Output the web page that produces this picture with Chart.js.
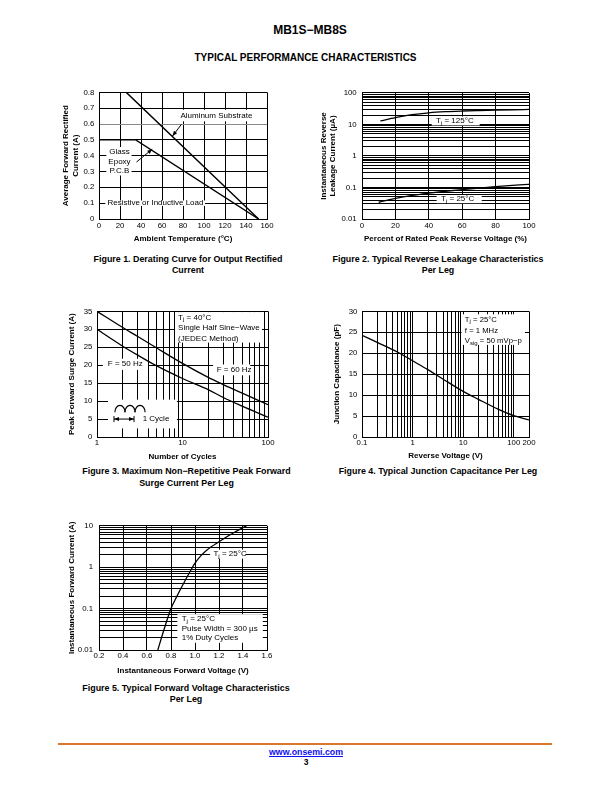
<!DOCTYPE html>
<html><head><meta charset="utf-8">
<script src="https://cdn.jsdelivr.net/npm/chart.js@4.4.1/dist/chart.umd.min.js"></script>
<style>
html,body{margin:0;padding:0;background:#fff;}
body{width:612px;height:792px;position:relative;overflow:hidden;font-family:"Liberation Sans",Arial,Helvetica,sans-serif;color:#000;}
.c{position:absolute;transform:translateX(-50%);text-align:center;font-weight:bold;white-space:nowrap;}
canvas{position:absolute;}
#rule{position:absolute;left:58px;top:743px;width:494px;height:2px;background:#d9782d;}
a{color:#1010ee;text-decoration:underline;}
</style></head>
<body>
<div class="c" style="left:310px;top:23px;font-size:12px;line-height:14px;">MB1S−MB8S</div>
<div class="c" style="left:305.5px;top:52px;font-size:10px;line-height:12px;">TYPICAL PERFORMANCE CHARACTERISTICS</div>
<div class="c" style="left:188px;top:253.5px;font-size:8.9px;line-height:11px;">Figure 1. Derating Curve for Output Rectified<br>Current</div>
<div class="c" style="left:438px;top:253.5px;font-size:8.9px;line-height:11px;">Figure 2. Typical Reverse Leakage Characteristics<br>Per Leg</div>
<div class="c" style="left:186.5px;top:466px;font-size:8.9px;line-height:11.5px;">Figure 3. Maximum Non−Repetitive Peak Forward<br>Surge Current Per Leg</div>
<div class="c" style="left:438px;top:466px;font-size:8.9px;line-height:11px;">Figure 4. Typical Junction Capacitance Per Leg</div>
<div class="c" style="left:186px;top:682.5px;font-size:8.9px;line-height:11px;">Figure 5. Typical Forward Voltage Characteristics<br>Per Leg</div>
<div id="rule"></div>
<div class="c" style="left:306px;top:746.5px;font-size:8.8px;line-height:11px;"><a>www.onsemi.com</a></div>
<div class="c" style="left:306px;top:756.5px;font-size:8.5px;line-height:11px;">3</div>

<canvas id="c1"></canvas><canvas id="c2"></canvas><canvas id="c3"></canvas><canvas id="c4"></canvas><canvas id="c5"></canvas>
<script>
// ---------------- DATA ----------------
// Figure 1 – derating curve
const fig1XTicks = [0, 20, 40, 60, 80, 100, 120, 140, 160];
const fig1YTicks = [0, 0.1, 0.2, 0.3, 0.4, 0.5, 0.6, 0.7, 0.8];
const fig1AlumTemp = [0, 26, 152];
const fig1AlumCurrent = [0.8, 0.8, 0];
const fig1GlassTemp = [0, 35, 152];
const fig1GlassCurrent = [0.5, 0.5, 0];

// Figure 2 – reverse leakage
const fig2XTicks = [0, 20, 40, 60, 80, 100];
const fig2YLabels = [0.01, 0.1, 1, 10, 100];
const fig2Volt125 = [11, 20, 30, 40, 50, 60, 70, 80, 90, 100];
const fig2Leak125 = [13, 16.5, 20.5, 23.5, 25.5, 26.8, 27.8, 28.7, 29.4, 30];
const fig2Volt25 = [10, 20, 30, 40, 50, 60, 70, 80, 90, 100];
const fig2Leak25 = [0.034, 0.045, 0.056, 0.066, 0.076, 0.086, 0.096, 0.106, 0.116, 0.126];

// Figure 3 – surge current
const fig3XLabels = [1, 10, 100];
const fig3YTicks = [0, 5, 10, 15, 20, 25, 30, 35];
const fig3Cycles = [1, 2, 3, 5, 10, 20, 30, 50, 100];
const fig3Surge60 = [35, 30.5, 28, 24.8, 20.5, 16.6, 14.6, 12.2, 9];
const fig3Surge50 = [30, 25.3, 22.8, 19.8, 16.3, 13.2, 11.0, 8.6, 5.5];

// Figure 4 – junction capacitance
const fig4XLabels = [0.1, 1, 10, 100, 200];
const fig4YTicks = [0, 5, 10, 15, 20, 25, 30];
const fig4Voltage = [0.1, 0.2, 0.5, 1, 2, 5, 10, 20, 50, 100, 200];
const fig4Cap = [24.3, 22.6, 20.3, 18.2, 16.1, 13.1, 10.9, 9.0, 6.6, 5.1, 4.1];

// Figure 5 – forward voltage
const fig5XTicks = [0.2, 0.4, 0.6, 0.8, 1.0, 1.2, 1.4, 1.6];
const fig5XLabels = ['0.2', '0.4', '0.6', '0.8', '1.0', '1.2', '1.4', '1.6'];
const fig5YLabels = [0.01, 0.1, 1, 10];
const fig5Voltage = [0.69, 0.74, 0.8, 0.85, 0.9, 0.95, 1.0, 1.05, 1.1, 1.2, 1.3, 1.4, 1.43];
const fig5Current = [0.01, 0.03, 0.1, 0.2, 0.38, 0.7, 1.25, 1.9, 2.6, 4.1, 6.2, 9.0, 10];

// ---------------- HELPERS ----------------
const FAM = '"Liberation Sans", Arial, Helvetica, sans-serif';
Chart.defaults.font.family = FAM;
Chart.defaults.font.size = 7.8;
Chart.defaults.color = '#000';

function logGrid(min, max) {
  const out = [];
  for (let e = Math.floor(Math.log10(min)); e <= Math.ceil(Math.log10(max)); e++) {
    for (let m = 1; m <= 9; m++) {
      const v = +(m * Math.pow(10, e)).toPrecision(6);
      if (v >= min - 1e-12 && v <= max + 1e-12) out.push(v);
    }
  }
  return out;
}
function pts(xs, ys) { return xs.map((x, i) => ({x: x, y: ys[i]})); }
function same(a, b) { return Math.abs(a - b) <= 1e-9 * Math.max(1, Math.abs(a)); }

function axis(kind, o) {
  return {
    type: o.type || 'linear', min: o.min, max: o.max,
    border: {display: true, color: '#000', width: 1},
    grid: {color: o.gridColor || '#000', lineWidth: 1, drawTicks: false},
    ticks: {
      padding: o.tickPad, autoSkip: false, maxRotation: 0, minRotation: 0,
      font: {size: 7.8},
      callback: function (v) {
        for (let i = 0; i < o.labels.length; i++) {
          if (same(o.labels[i], v)) return o.labelText ? o.labelText[i] : String(o.labels[i]);
        }
        return '';
      }
    },
    afterBuildTicks: function (s) { s.ticks = o.grid.map(v => ({value: v})); },
    afterFit: function (s) { if (kind === 'x') s.height = o.fit; else s.width = o.fit; },
    title: {display: true, text: o.title, color: '#000',
      font: {size: 8, weight: 'bold', lineHeight: 1.2}, padding: o.titlePad}
  };
}

function parseRich(s) {
  const out = []; const re = /_\{([^}]*)\}/g; let last = 0, m;
  while ((m = re.exec(s))) {
    if (m.index > last) out.push({t: s.slice(last, m.index)});
    out.push({t: m[1], sub: true}); last = re.lastIndex;
  }
  if (last < s.length) out.push({t: s.slice(last)});
  return out;
}
function drawRich(ctx, s, x, y, align, size) {
  const segs = parseRich(s); let w = 0;
  for (const g of segs) { ctx.font = (g.sub ? size * 0.78 : size) + 'px ' + FAM; g.w = ctx.measureText(g.t).width; w += g.w; }
  let cx = align === 'center' ? x - w / 2 : x;
  ctx.textBaseline = 'middle'; ctx.textAlign = 'left'; ctx.fillStyle = '#000';
  for (const g of segs) {
    ctx.font = (g.sub ? size * 0.78 : size) + 'px ' + FAM;
    ctx.fillText(g.t, cx, y + (g.sub ? 2 : 0)); cx += g.w;
  }
}
function arrowHead(ctx, x1, y1, x2, y2, len, hw) {
  const a = Math.atan2(y2 - y1, x2 - x1);
  ctx.beginPath();
  ctx.moveTo(x2, y2);
  ctx.lineTo(x2 - len * Math.cos(a) + hw * Math.sin(a), y2 - len * Math.sin(a) - hw * Math.cos(a));
  ctx.lineTo(x2 - len * Math.cos(a) - hw * Math.sin(a), y2 - len * Math.sin(a) + hw * Math.cos(a));
  ctx.closePath(); ctx.fill();
}

function notes(items) {
  return {
    id: 'notes',
    beforeDatasetsDraw(chart) {
      const ctx = chart.ctx, X = chart.scales.x, Y = chart.scales.y;
      const px = v => X.getPixelForValue(v), py = v => Y.getPixelForValue(v);
      ctx.save();
      for (const it of items) if (it.type === 'box') {
        const x1 = px(it.x1), x2 = px(it.x2), y1 = py(it.y1), y2 = py(it.y2);
        ctx.fillStyle = '#fff';
        ctx.fillRect(Math.min(x1, x2), Math.min(y1, y2), Math.abs(x2 - x1), Math.abs(y2 - y1));
      }
      for (const it of items) if (it.type === 'text') {
        drawRich(ctx, it.text, px(it.x), py(it.y), it.align || 'left', it.size || 8);
      }
      ctx.restore();
    },
    afterDatasetsDraw(chart) {
      const ctx = chart.ctx, X = chart.scales.x, Y = chart.scales.y;
      const px = v => X.getPixelForValue(v), py = v => Y.getPixelForValue(v);
      ctx.save();
      ctx.strokeStyle = '#000'; ctx.fillStyle = '#000'; ctx.lineWidth = 1;
      for (const it of items) {
        if (it.type === 'arrow') {
          const x1 = px(it.x1), y1 = py(it.y1), x2 = px(it.x2), y2 = py(it.y2);
          ctx.beginPath(); ctx.moveTo(x1, y1); ctx.lineTo(x2, y2); ctx.stroke();
          arrowHead(ctx, x1, y1, x2, y2, 5, 2);
        } else if (it.type === 'cycle') {
          const a = px(it.x1), b = px(it.x2), yb = py(it.yBase), yt = py(it.yTop);
          const w = (b - a) / 3;
          ctx.lineWidth = 1.2;
          for (let k = 0; k < 3; k++) {
            ctx.beginPath();
            ctx.ellipse(a + w * k + w / 2, yb, w / 2, yb - yt, 0, Math.PI, 2 * Math.PI);
            ctx.stroke();
          }
          ctx.lineWidth = 1;
          const d1 = px(it.d1), d2 = px(it.d2), dy = py(it.dy);
          ctx.beginPath(); ctx.moveTo(d1, dy); ctx.lineTo(d2, dy);
          ctx.moveTo(d1, dy - 3); ctx.lineTo(d1, dy + 3);
          ctx.moveTo(d2, dy - 3); ctx.lineTo(d2, dy + 3); ctx.stroke();
          arrowHead(ctx, d2, dy, d1, dy, 5, 2);
          arrowHead(ctx, d1, dy, d2, dy, 5, 2);
        }
      }
      ctx.restore();
    }
  };
}

const YW = 45, PT = 8, PR = 14, XH = 32;
function makeChart(id, box, datasets, xAxis, yAxis, items) {
  const cv = document.getElementById(id);
  const w = box.R - box.L + YW + PR, h = box.B - box.T + PT + XH;
  cv.width = w; cv.height = h;
  cv.style.left = (box.L - YW) + 'px'; cv.style.top = (box.T - PT) + 'px';
  cv.style.width = w + 'px'; cv.style.height = h + 'px';
  new Chart(cv, {
    type: 'scatter',
    data: {datasets: datasets.map(d => Object.assign({
      showLine: true, borderColor: '#000', borderWidth: 1.3, pointRadius: 0,
      pointHoverRadius: 0, fill: false}, d))},
    options: {
      responsive: false, animation: false, devicePixelRatio: 1,
      layout: {padding: {left: 0, top: PT, right: PR, bottom: 0}},
      plugins: {legend: {display: false}, tooltip: {enabled: false}},
      events: [],
      scales: {x: xAxis, y: yAxis}
    },
    plugins: [notes(items)]
  });
}

// ---------------- FIGURE 1 ----------------
makeChart('c1', {L: 99, T: 91, R: 267, B: 219},
  [{data: pts(fig1AlumTemp, fig1AlumCurrent), borderWidth: 1.4},
   {data: pts(fig1GlassTemp, fig1GlassCurrent), borderWidth: 1.4}],
  axis('x', {min: 0, max: 160, grid: fig1XTicks, labels: fig1XTicks, tickPad: 2.0, fit: XH,
    title: 'Ambient Temperature (°C)', titlePad: {top: 0, bottom: 7.2}}),
  Object.assign(axis('y', {min: 0, max: 0.8, grid: fig1YTicks, labels: fig1YTicks, tickPad: 4.7, fit: YW,
    title: ['Average Forward Rectified', 'Current (A)'], titlePad: {top: 7.0, bottom: 0}}),
    {grid: {drawTicks: false, lineWidth: 1,
      color: c => (c.tick && same(c.tick.value, 0.6)) ? '#8a8a8a' : '#000'}}),
  [
    {type: 'box', x1: 75, x2: 148, y1: 0.617, y2: 0.69},
    {type: 'text', x: 77.5, y: 0.655, text: 'Aluminum Substrate'},
    {type: 'box', x1: 7, x2: 31, y1: 0.275, y2: 0.455},
    {type: 'text', x: 19.5, y: 0.422, text: 'Glass', align: 'center'},
    {type: 'text', x: 19.5, y: 0.362, text: 'Epoxy', align: 'center'},
    {type: 'text', x: 19.5, y: 0.303, text: 'P.C.B', align: 'center'},
    {type: 'box', x1: 6, x2: 101, y1: 0.083, y2: 0.117},
    {type: 'text', x: 8, y: 0.1, text: 'Resistive or Inductive Load'},
    {type: 'arrow', x1: 78.5, y1: 0.598, x2: 70, y2: 0.524},
    {type: 'arrow', x1: 35.7, y1: 0.36, x2: 50.7, y2: 0.441}
  ]);

// ---------------- FIGURE 2 ----------------
makeChart('c2', {L: 362, T: 91, R: 529, B: 219},
  [{data: pts(fig2Volt125, fig2Leak125), cubicInterpolationMode: 'monotone'},
   {data: pts(fig2Volt25, fig2Leak25), cubicInterpolationMode: 'monotone'}],
  axis('x', {min: 0, max: 100, grid: fig2XTicks, labels: fig2XTicks, tickPad: 2.0, fit: XH,
    title: 'Percent of Rated Peak Reverse Voltage (%)', titlePad: {top: 0, bottom: 7.2}}),
  axis('y', {type: 'logarithmic', min: 0.01, max: 100, grid: logGrid(0.01, 100), labels: fig2YLabels,
    tickPad: 5.3, fit: YW, title: ['Instantaneous Reverse', 'Leakage Current (µA)'],
    titlePad: {top: 1.5, bottom: 0}}),
  [
    {type: 'box', x1: 41.7, x2: 70.5, y1: 9.35, y2: 17.8},
    {type: 'text', x: 44.3, y: 13.1, text: 'T_{j} = 125°C'},
    {type: 'box', x1: 44.7, x2: 71.7, y1: 0.0318, y2: 0.0577},
    {type: 'text', x: 47.3, y: 0.0428, text: 'T_{j} = 25°C'}
  ]);

// ---------------- FIGURE 3 ----------------
makeChart('c3', {L: 97, T: 310, R: 268, B: 437},
  [{data: pts(fig3Cycles, fig3Surge60), cubicInterpolationMode: 'monotone'},
   {data: pts(fig3Cycles, fig3Surge50), cubicInterpolationMode: 'monotone'}],
  axis('x', {type: 'logarithmic', min: 1, max: 100, grid: logGrid(1, 100), labels: fig3XLabels,
    tickPad: 0.8, fit: XH, title: 'Number of Cycles', titlePad: {top: 0, bottom: 7.7}}),
  axis('y', {min: 0, max: 35, grid: fig3YTicks, labels: fig3YTicks, tickPad: 4.7, fit: YW,
    title: 'Peak Forward Surge Current (A)', titlePad: {top: 14.9, bottom: 0}}),
  [
    {type: 'box', x1: 8.18, x2: 85, y1: 26.3, y2: 34.8},
    {type: 'text', x: 8.87, y: 33.3, text: 'T_{j} = 40°C'},
    {type: 'text', x: 8.87, y: 30.4, text: 'Single Half Sine−Wave'},
    {type: 'text', x: 8.87, y: 27.5, text: '(JEDEC Method)'},
    {type: 'box', x1: 1.17, x2: 3.95, y1: 18.7, y2: 21.8},
    {type: 'text', x: 1.34, y: 20.3, text: 'F = 50 Hz'},
    {type: 'box', x1: 22.8, x2: 62, y1: 17.2, y2: 20.2},
    {type: 'text', x: 25.1, y: 18.7, text: 'F = 60 Hz'},
    {type: 'box', x1: 1.345, x2: 8.6, y1: 2.4, y2: 10.4},
    {type: 'text', x: 3.42, y: 5, text: '1 Cycle'},
    {type: 'cycle', x1: 1.62, x2: 3.65, yBase: 6.9, yTop: 8.8, d1: 1.58, d2: 2.71, dy: 5}
  ]);

// ---------------- FIGURE 4 ----------------
makeChart('c4', {L: 362, T: 310, R: 529, B: 437},
  [{data: pts(fig4Voltage, fig4Cap), cubicInterpolationMode: 'monotone'}],
  axis('x', {type: 'logarithmic', min: 0.1, max: 200, grid: logGrid(0.1, 200), labels: fig4XLabels,
    tickPad: 1.3, fit: XH, title: 'Reverse Voltage (V)', titlePad: {top: 0, bottom: 8.7}}),
  axis('y', {min: 0, max: 30, grid: fig4YTicks, labels: fig4YTicks, tickPad: 4.7, fit: YW,
    title: 'Junction Capacitance (pF)', titlePad: {top: 14.9, bottom: 0}}),
  [
    {type: 'box', x1: 9.27, x2: 166, y1: 22.0, y2: 29.3},
    {type: 'text', x: 10.8, y: 28.0, text: 'T_{j} = 25°C', size: 7.7},
    {type: 'text', x: 10.8, y: 25.4, text: 'f = 1 MHz', size: 7.7},
    {type: 'text', x: 10.8, y: 22.9, text: 'V_{sig} = 50 mVp−p', size: 7.7}
  ]);

// ---------------- FIGURE 5 ----------------
makeChart('c5', {L: 99, T: 523, R: 267, B: 650},
  [{data: pts(fig5Voltage, fig5Current), cubicInterpolationMode: 'monotone'}],
  axis('x', {min: 0.2, max: 1.6, grid: fig5XTicks, labels: fig5XTicks, labelText: fig5XLabels,
    tickPad: 1.3, fit: XH, title: 'Instantaneous Forward Voltage (V)', titlePad: {top: 0, bottom: 6.2}}),
  axis('y', {type: 'logarithmic', min: 0.01, max: 10, grid: logGrid(0.01, 10), labels: fig5YLabels,
    tickPad: 6, fit: YW, title: 'Instantaneous Forward Current (A)', titlePad: {top: 12.9, bottom: 0}}),
  [
    {type: 'box', x1: 1.126, x2: 1.42, y1: 1.6, y2: 2.64},
    {type: 'text', x: 1.154, y: 2.07, text: 'T_{j} = 25°C'},
    {type: 'box', x1: 0.853, x2: 1.565, y1: 0.0149, y2: 0.0733},
    {type: 'text', x: 0.889, y: 0.0558, text: 'T_{j} = 25°C'},
    {type: 'text', x: 0.889, y: 0.0324, text: 'Pulse Width = 300 µs'},
    {type: 'text', x: 0.889, y: 0.0195, text: '1% Duty Cycles'}
  ]);
</script>
</body></html>
